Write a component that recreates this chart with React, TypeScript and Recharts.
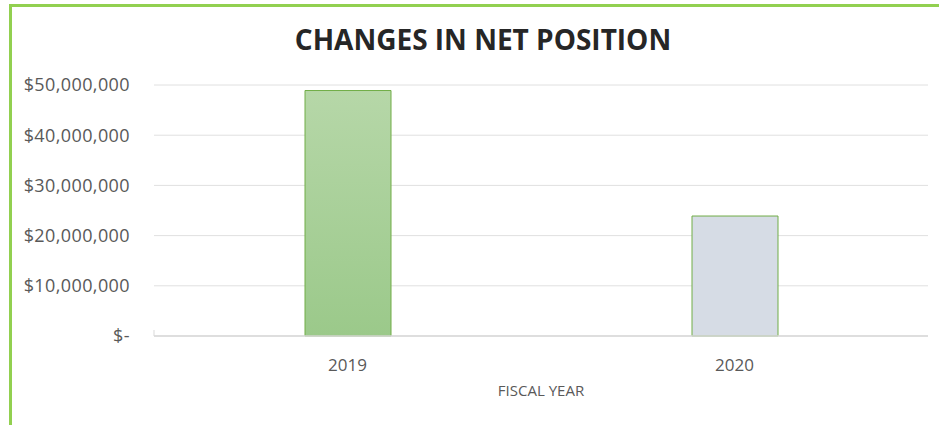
import { BarChart, Bar, XAxis, YAxis, CartesianGrid, Cell } from 'recharts';

const years = ['2019', '2020'];
const netPositionChange = [48900000, 23900000];
const yTicks = [0, 10000000, 20000000, 30000000, 40000000, 50000000];
const boundaryTicks = [0, 1, 2];

const chartData = years.map((year, i) => ({
  year,
  value: netPositionChange[i],
}));

const formatMoney = (v: number) => (v === 0 ? '$-' : '$' + v.toLocaleString('en-US'));

export default function App() {
  return (
    <div style={{ position: 'absolute', left: 0, top: 0, width: 939, height: 425, background: '#fff', fontFamily: '"Open Sans", sans-serif' }}>
      {/* chart frame */}
      <div
        style={{
          position: 'absolute',
          left: 9,
          top: 4,
          width: 940,
          height: 419,
          borderLeft: '3px solid #92d050',
          borderTop: '3px solid #92d050',
          borderBottom: '1px solid #e2f0d9',
        }}
      />
      <div
        style={{
          position: 'absolute',
          left: 0,
          width: 966,
          top: 20,
          textAlign: 'center',
          fontSize: 28,
          lineHeight: '38px',
          fontWeight: 700,
          color: '#262626',
        }}
      >
        CHANGES IN NET POSITION
      </div>
      <div style={{ position: 'absolute', left: 0, top: 0 }}>
        <BarChart width={939} height={425} data={chartData} margin={{ top: 85, right: 11, bottom: 0, left: 0 }}>
          <defs>
            <linearGradient id="greenFill" x1="0" y1="0" x2="0" y2="1">
              <stop offset="0%" stopColor="#b6d7a8" />
              <stop offset="100%" stopColor="#9bc98a" />
            </linearGradient>
          </defs>
          <CartesianGrid vertical={false} stroke="#e0e0e0" />
          <XAxis
            dataKey="year"
            height={89}
            tickLine={false}
            axisLine={{ stroke: '#d9d9d9', strokeWidth: 1.5 }}
            tickSize={0}
            tickMargin={23}
            tick={{ fill: '#595959', fontSize: 17 }}
            label={{ value: 'FISCAL YEAR', position: 'insideTop', offset: 49, fill: '#595959', fontSize: 15 }}
          />
          <XAxis
            xAxisId="bounds"
            type="number"
            domain={[0, 2]}
            ticks={boundaryTicks}
            mirror
            axisLine={false}
            tickLine={{ stroke: '#d9d9d9' }}
            tickSize={6}
            tick={{ fill: 'none' }}
          />
          <YAxis
            width={154}
            domain={[0, 50000000]}
            ticks={yTicks}
            tickFormatter={formatMoney}
            axisLine={false}
            tickLine={false}
            tickSize={0}
            tickMargin={24}
            tick={{ fill: '#595959', fontSize: 18, letterSpacing: 0.4 }}
          />
          <Bar dataKey="value" barSize={86} stroke="#70ad47" strokeWidth={1} isAnimationActive={false}>
            <Cell fill="url(#greenFill)" />
            <Cell fill="#d6dce5" />
          </Bar>
        </BarChart>
      </div>
    </div>
  );
}
